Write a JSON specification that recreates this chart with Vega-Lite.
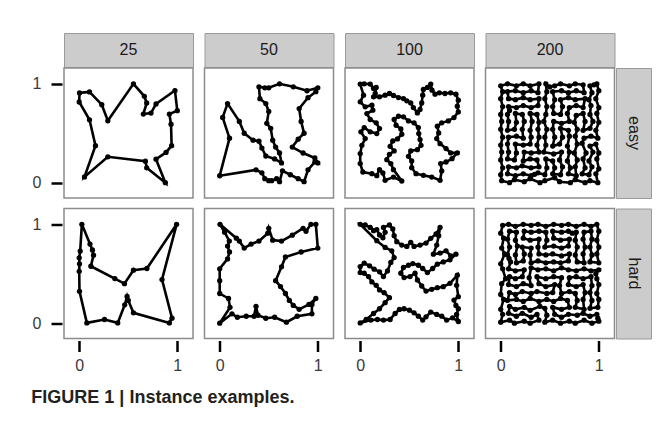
{
  "$schema": "https://vega.github.io/schema/vega-lite/v6.json",
  "background": "white",
  "padding": {"left": 31, "top": 32, "right": 12, "bottom": 16},
  "spacing": 8.5,
  "title": {
    "text": "FIGURE 1 | Instance examples.",
    "orient": "bottom",
    "anchor": "start",
    "frame": "bounds",
    "offset": 15,
    "fontSize": 18,
    "fontWeight": "bold",
    "font": "Liberation Sans",
    "color": "#231f20"
  },
  "config": {
    "font": "Liberation Sans",
    "axis": {
      "title": null,
      "grid": false,
      "domain": false,
      "format": "d",
      "tickSize": 11,
      "tickWidth": 2.5,
      "tickColor": "#000000",
      "offset": 2,
      "labelFont": "Liberation Sans",
      "labelFontSize": 16,
      "labelColor": "#3a3a3a"
    }
  },
  "datasets": {
    "easy25": [
      {"x": 0.003, "y": 0.908}, {"x": 0.105, "y": 0.918}, {"x": 0.23, "y": 0.789}, {"x": 0.292, "y": 0.626},
      {"x": 0.553, "y": 1.0}, {"x": 0.664, "y": 0.874}, {"x": 0.688, "y": 0.806}, {"x": 0.654, "y": 0.694},
      {"x": 0.732, "y": 0.704}, {"x": 0.783, "y": 0.796}, {"x": 0.976, "y": 0.932}, {"x": 1.0, "y": 0.728},
      {"x": 0.919, "y": 0.694}, {"x": 0.936, "y": 0.592}, {"x": 0.942, "y": 0.374}, {"x": 0.885, "y": 0.306},
      {"x": 0.783, "y": 0.238}, {"x": 0.878, "y": 0.0}, {"x": 0.688, "y": 0.15}, {"x": 0.675, "y": 0.218},
      {"x": 0.292, "y": 0.262}, {"x": 0.054, "y": 0.058}, {"x": 0.166, "y": 0.374}, {"x": 0.105, "y": 0.636},
      {"x": 0.0, "y": 0.816}
    ],
    "hard25": [
      {"x": 0.027, "y": 1.0}, {"x": 0.11, "y": 0.8}, {"x": 0.135, "y": 0.74}, {"x": 0.146, "y": 0.688},
      {"x": 0.119, "y": 0.576}, {"x": 0.363, "y": 0.451}, {"x": 0.461, "y": 0.4}, {"x": 0.553, "y": 0.536},
      {"x": 0.69, "y": 0.553}, {"x": 0.993, "y": 1.0}, {"x": 0.844, "y": 0.441}, {"x": 0.946, "y": 0.051},
      {"x": 0.919, "y": 0.003}, {"x": 0.553, "y": 0.105}, {"x": 0.5, "y": 0.23}, {"x": 0.488, "y": 0.271},
      {"x": 0.464, "y": 0.186}, {"x": 0.393, "y": 0.003}, {"x": 0.258, "y": 0.037}, {"x": 0.078, "y": 0.003},
      {"x": 0.003, "y": 0.322}, {"x": 0.0, "y": 0.525}, {"x": 0.003, "y": 0.6}, {"x": 0.0, "y": 0.661},
      {"x": 0.01, "y": 0.729}
    ],
    "easy50": [
      {"x": 0.0, "y": 0.07}, {"x": 0.37, "y": 0.13}, {"x": 0.43, "y": 0.1}, {"x": 0.46, "y": 0.04},
      {"x": 0.5, "y": 0.02}, {"x": 0.53, "y": 0.02}, {"x": 0.58, "y": 0.04}, {"x": 0.61, "y": 0.01},
      {"x": 0.64, "y": 0.12}, {"x": 0.72, "y": 0.08}, {"x": 0.8, "y": 0.04}, {"x": 0.86, "y": 0.01},
      {"x": 0.9, "y": 0.13}, {"x": 0.97, "y": 0.21}, {"x": 1.0, "y": 0.2}, {"x": 0.97, "y": 0.25},
      {"x": 0.85, "y": 0.3}, {"x": 0.74, "y": 0.36}, {"x": 0.8, "y": 0.44}, {"x": 0.86, "y": 0.5},
      {"x": 0.83, "y": 0.62}, {"x": 0.81, "y": 0.75}, {"x": 0.9, "y": 0.86}, {"x": 0.98, "y": 0.92},
      {"x": 1.0, "y": 0.96}, {"x": 0.89, "y": 0.93}, {"x": 0.75, "y": 0.97}, {"x": 0.61, "y": 1.0},
      {"x": 0.5, "y": 0.96}, {"x": 0.46, "y": 0.96}, {"x": 0.4, "y": 0.97}, {"x": 0.41, "y": 0.85},
      {"x": 0.47, "y": 0.8}, {"x": 0.5, "y": 0.72}, {"x": 0.48, "y": 0.6}, {"x": 0.52, "y": 0.55},
      {"x": 0.54, "y": 0.43}, {"x": 0.57, "y": 0.36}, {"x": 0.61, "y": 0.3}, {"x": 0.63, "y": 0.2},
      {"x": 0.56, "y": 0.24}, {"x": 0.47, "y": 0.27}, {"x": 0.43, "y": 0.35}, {"x": 0.4, "y": 0.42},
      {"x": 0.34, "y": 0.43}, {"x": 0.25, "y": 0.5}, {"x": 0.2, "y": 0.62}, {"x": 0.08, "y": 0.8},
      {"x": 0.03, "y": 0.66}, {"x": 0.1, "y": 0.45}
    ],
    "hard50": [
      {"x": 0.003, "y": 1.0}, {"x": 0.17, "y": 0.86}, {"x": 0.2, "y": 0.83}, {"x": 0.25, "y": 0.76},
      {"x": 0.32, "y": 0.8}, {"x": 0.4, "y": 0.83}, {"x": 0.49, "y": 0.91}, {"x": 0.5, "y": 0.96},
      {"x": 0.54, "y": 0.84}, {"x": 0.63, "y": 0.83}, {"x": 0.74, "y": 0.89}, {"x": 0.85, "y": 0.96},
      {"x": 0.88, "y": 0.93}, {"x": 0.93, "y": 1.0}, {"x": 0.98, "y": 1.0}, {"x": 1.0, "y": 0.76},
      {"x": 0.83, "y": 0.72}, {"x": 0.67, "y": 0.67}, {"x": 0.63, "y": 0.57}, {"x": 0.57, "y": 0.43},
      {"x": 0.62, "y": 0.37}, {"x": 0.67, "y": 0.3}, {"x": 0.71, "y": 0.23}, {"x": 0.75, "y": 0.18},
      {"x": 0.81, "y": 0.14}, {"x": 0.91, "y": 0.19}, {"x": 0.98, "y": 0.25}, {"x": 0.94, "y": 0.19},
      {"x": 0.94, "y": 0.095}, {"x": 0.79, "y": 0.07}, {"x": 0.68, "y": 0.01}, {"x": 0.56, "y": 0.06},
      {"x": 0.47, "y": 0.05}, {"x": 0.39, "y": 0.08}, {"x": 0.37, "y": 0.17}, {"x": 0.35, "y": 0.07},
      {"x": 0.27, "y": 0.07}, {"x": 0.18, "y": 0.06}, {"x": 0.125, "y": 0.095}, {"x": 0.0, "y": 0.0},
      {"x": 0.105, "y": 0.16}, {"x": 0.09, "y": 0.25}, {"x": 0.0, "y": 0.3}, {"x": 0.0, "y": 0.43},
      {"x": 0.0, "y": 0.55}, {"x": 0.08, "y": 0.65}, {"x": 0.1, "y": 0.72}, {"x": 0.08, "y": 0.78},
      {"x": 0.098, "y": 0.83}, {"x": 0.05, "y": 0.92}
    ],
    "easy100": [
      {"x": 0.0, "y": 0.997}, {"x": 0.041, "y": 1.0}, {"x": 0.102, "y": 0.997}, {"x": 0.136, "y": 0.953},
      {"x": 0.163, "y": 0.963}, {"x": 0.153, "y": 0.902}, {"x": 0.136, "y": 0.868}, {"x": 0.197, "y": 0.868},
      {"x": 0.254, "y": 0.885}, {"x": 0.298, "y": 0.902}, {"x": 0.339, "y": 0.882}, {"x": 0.39, "y": 0.861},
      {"x": 0.441, "y": 0.851}, {"x": 0.475, "y": 0.828}, {"x": 0.515, "y": 0.807}, {"x": 0.542, "y": 0.76},
      {"x": 0.583, "y": 0.706}, {"x": 0.61, "y": 0.74}, {"x": 0.627, "y": 0.807}, {"x": 0.637, "y": 0.885},
      {"x": 0.644, "y": 0.943}, {"x": 0.685, "y": 0.963}, {"x": 0.719, "y": 0.997}, {"x": 0.732, "y": 0.936},
      {"x": 0.763, "y": 0.895}, {"x": 0.807, "y": 0.909}, {"x": 0.864, "y": 0.902}, {"x": 0.922, "y": 0.909},
      {"x": 0.976, "y": 0.895}, {"x": 1.0, "y": 0.834}, {"x": 0.99, "y": 0.774}, {"x": 1.0, "y": 0.716},
      {"x": 0.956, "y": 0.659}, {"x": 0.898, "y": 0.625}, {"x": 0.831, "y": 0.605}, {"x": 0.786, "y": 0.571},
      {"x": 0.8, "y": 0.503}, {"x": 0.78, "y": 0.446}, {"x": 0.814, "y": 0.395}, {"x": 0.875, "y": 0.345},
      {"x": 0.922, "y": 0.301}, {"x": 0.99, "y": 0.301}, {"x": 0.936, "y": 0.243}, {"x": 0.875, "y": 0.209},
      {"x": 0.82, "y": 0.193}, {"x": 0.831, "y": 0.118}, {"x": 0.814, "y": 0.024}, {"x": 0.729, "y": 0.057},
      {"x": 0.644, "y": 0.074}, {"x": 0.569, "y": 0.091}, {"x": 0.525, "y": 0.152}, {"x": 0.525, "y": 0.22},
      {"x": 0.492, "y": 0.267}, {"x": 0.515, "y": 0.321}, {"x": 0.583, "y": 0.334}, {"x": 0.62, "y": 0.378},
      {"x": 0.61, "y": 0.436}, {"x": 0.597, "y": 0.497}, {"x": 0.593, "y": 0.557}, {"x": 0.549, "y": 0.605},
      {"x": 0.492, "y": 0.625}, {"x": 0.441, "y": 0.666}, {"x": 0.39, "y": 0.672}, {"x": 0.346, "y": 0.639},
      {"x": 0.366, "y": 0.581}, {"x": 0.414, "y": 0.544}, {"x": 0.424, "y": 0.49}, {"x": 0.38, "y": 0.443},
      {"x": 0.332, "y": 0.422}, {"x": 0.305, "y": 0.368}, {"x": 0.346, "y": 0.321}, {"x": 0.298, "y": 0.287},
      {"x": 0.271, "y": 0.233}, {"x": 0.312, "y": 0.193}, {"x": 0.339, "y": 0.132}, {"x": 0.424, "y": 0.017},
      {"x": 0.339, "y": 0.057}, {"x": 0.254, "y": 0.024}, {"x": 0.231, "y": 0.098}, {"x": 0.197, "y": 0.132},
      {"x": 0.169, "y": 0.071}, {"x": 0.119, "y": 0.091}, {"x": 0.027, "y": 0.108}, {"x": 0.0, "y": 0.193},
      {"x": 0.0, "y": 0.294}, {"x": 0.017, "y": 0.378}, {"x": 0.051, "y": 0.446}, {"x": 0.007, "y": 0.514},
      {"x": 0.041, "y": 0.557}, {"x": 0.102, "y": 0.514}, {"x": 0.169, "y": 0.497}, {"x": 0.197, "y": 0.547},
      {"x": 0.163, "y": 0.605}, {"x": 0.102, "y": 0.639}, {"x": 0.068, "y": 0.699}, {"x": 0.129, "y": 0.733},
      {"x": 0.119, "y": 0.784}, {"x": 0.051, "y": 0.767}, {"x": 0.0, "y": 0.818}, {"x": 0.034, "y": 0.885}
    ],
    "hard100": [
      {"x": 0.0, "y": 1.0}, {"x": 0.051, "y": 0.993}, {"x": 0.102, "y": 0.969}, {"x": 0.136, "y": 0.936},
      {"x": 0.169, "y": 0.946}, {"x": 0.197, "y": 0.892}, {"x": 0.231, "y": 0.864}, {"x": 0.254, "y": 0.919},
      {"x": 0.237, "y": 0.969}, {"x": 0.298, "y": 0.993}, {"x": 0.332, "y": 0.953}, {"x": 0.346, "y": 0.885},
      {"x": 0.373, "y": 0.824}, {"x": 0.424, "y": 0.79}, {"x": 0.475, "y": 0.776}, {"x": 0.515, "y": 0.817},
      {"x": 0.549, "y": 0.776}, {"x": 0.61, "y": 0.79}, {"x": 0.671, "y": 0.81}, {"x": 0.719, "y": 0.858},
      {"x": 0.773, "y": 0.902}, {"x": 0.814, "y": 0.969}, {"x": 0.8, "y": 0.885}, {"x": 0.78, "y": 0.79},
      {"x": 0.746, "y": 0.698}, {"x": 0.814, "y": 0.708}, {"x": 0.875, "y": 0.732}, {"x": 0.922, "y": 0.681},
      {"x": 0.976, "y": 0.698}, {"x": 0.915, "y": 0.641}, {"x": 0.847, "y": 0.62}, {"x": 0.786, "y": 0.597},
      {"x": 0.739, "y": 0.553}, {"x": 0.685, "y": 0.512}, {"x": 0.637, "y": 0.553}, {"x": 0.593, "y": 0.586},
      {"x": 0.536, "y": 0.603}, {"x": 0.492, "y": 0.586}, {"x": 0.441, "y": 0.563}, {"x": 0.414, "y": 0.505},
      {"x": 0.447, "y": 0.461}, {"x": 0.508, "y": 0.471}, {"x": 0.559, "y": 0.505}, {"x": 0.583, "y": 0.437},
      {"x": 0.627, "y": 0.376}, {"x": 0.671, "y": 0.325}, {"x": 0.729, "y": 0.342}, {"x": 0.786, "y": 0.359},
      {"x": 0.847, "y": 0.369}, {"x": 0.915, "y": 0.403}, {"x": 0.99, "y": 0.485}, {"x": 0.983, "y": 0.383},
      {"x": 1.0, "y": 0.268}, {"x": 0.956, "y": 0.234}, {"x": 0.976, "y": 0.18}, {"x": 1.0, "y": 0.146},
      {"x": 0.983, "y": 0.088}, {"x": 1.0, "y": 0.017}, {"x": 0.942, "y": 0.054}, {"x": 0.881, "y": 0.031},
      {"x": 0.831, "y": 0.071}, {"x": 0.78, "y": 0.088}, {"x": 0.719, "y": 0.112}, {"x": 0.671, "y": 0.064},
      {"x": 0.637, "y": 0.031}, {"x": 0.593, "y": 0.071}, {"x": 0.549, "y": 0.105}, {"x": 0.502, "y": 0.132},
      {"x": 0.447, "y": 0.146}, {"x": 0.4, "y": 0.139}, {"x": 0.356, "y": 0.098}, {"x": 0.305, "y": 0.037},
      {"x": 0.237, "y": 0.031}, {"x": 0.176, "y": 0.037}, {"x": 0.108, "y": 0.031}, {"x": 0.0, "y": 0.003},
      {"x": 0.061, "y": 0.037}, {"x": 0.136, "y": 0.098}, {"x": 0.197, "y": 0.146}, {"x": 0.254, "y": 0.207},
      {"x": 0.298, "y": 0.258}, {"x": 0.244, "y": 0.308}, {"x": 0.197, "y": 0.336}, {"x": 0.163, "y": 0.383},
      {"x": 0.119, "y": 0.417}, {"x": 0.085, "y": 0.471}, {"x": 0.041, "y": 0.505}, {"x": 0.0, "y": 0.512},
      {"x": 0.0, "y": 0.573}, {"x": 0.041, "y": 0.607}, {"x": 0.095, "y": 0.58}, {"x": 0.142, "y": 0.546},
      {"x": 0.197, "y": 0.519}, {"x": 0.237, "y": 0.471}, {"x": 0.278, "y": 0.529}, {"x": 0.312, "y": 0.614},
      {"x": 0.346, "y": 0.664}, {"x": 0.322, "y": 0.732}, {"x": 0.254, "y": 0.766}, {"x": 0.169, "y": 0.834}
    ],
    "easy200": [
      {"x": 0.01, "y": 0.02}, {"x": 0.09, "y": 0.0}, {"x": 0.14, "y": 0.03}, {"x": 0.24, "y": 0.01},
      {"x": 0.3, "y": 0.04}, {"x": 0.4, "y": 0.0}, {"x": 0.45, "y": 0.02}, {"x": 0.55, "y": 0.05},
      {"x": 0.6, "y": 0.01}, {"x": 0.71, "y": 0.0}, {"x": 0.76, "y": 0.03}, {"x": 0.86, "y": 0.0},
      {"x": 0.91, "y": 0.02}, {"x": 0.99, "y": 0.0}, {"x": 0.97, "y": 0.09}, {"x": 1.0, "y": 0.14},
      {"x": 0.98, "y": 0.24}, {"x": 1.0, "y": 0.3}, {"x": 0.97, "y": 0.39}, {"x": 0.91, "y": 0.37},
      {"x": 0.94, "y": 0.31}, {"x": 0.9, "y": 0.22}, {"x": 0.93, "y": 0.16}, {"x": 0.9, "y": 0.08},
      {"x": 0.83, "y": 0.09}, {"x": 0.86, "y": 0.15}, {"x": 0.84, "y": 0.24}, {"x": 0.87, "y": 0.3},
      {"x": 0.83, "y": 0.4}, {"x": 0.85, "y": 0.45}, {"x": 0.92, "y": 0.47}, {"x": 0.99, "y": 0.45},
      {"x": 0.97, "y": 0.53}, {"x": 1.0, "y": 0.61}, {"x": 0.98, "y": 0.7}, {"x": 1.0, "y": 0.76},
      {"x": 0.97, "y": 0.85}, {"x": 1.0, "y": 0.93}, {"x": 0.98, "y": 1.0}, {"x": 0.95, "y": 0.99},
      {"x": 0.91, "y": 0.98}, {"x": 0.93, "y": 0.91}, {"x": 0.9, "y": 0.84}, {"x": 0.92, "y": 0.78},
      {"x": 0.91, "y": 0.69}, {"x": 0.94, "y": 0.62}, {"x": 0.91, "y": 0.55}, {"x": 0.84, "y": 0.53},
      {"x": 0.86, "y": 0.62}, {"x": 0.84, "y": 0.7}, {"x": 0.77, "y": 0.68}, {"x": 0.75, "y": 0.61},
      {"x": 0.78, "y": 0.54}, {"x": 0.76, "y": 0.47}, {"x": 0.78, "y": 0.39}, {"x": 0.75, "y": 0.3},
      {"x": 0.78, "y": 0.23}, {"x": 0.76, "y": 0.16}, {"x": 0.77, "y": 0.07}, {"x": 0.69, "y": 0.09},
      {"x": 0.71, "y": 0.15}, {"x": 0.68, "y": 0.22}, {"x": 0.7, "y": 0.31}, {"x": 0.68, "y": 0.37},
      {"x": 0.7, "y": 0.47}, {"x": 0.69, "y": 0.53}, {"x": 0.61, "y": 0.55}, {"x": 0.63, "y": 0.46},
      {"x": 0.6, "y": 0.39}, {"x": 0.53, "y": 0.37}, {"x": 0.55, "y": 0.46}, {"x": 0.53, "y": 0.54},
      {"x": 0.54, "y": 0.62}, {"x": 0.62, "y": 0.6}, {"x": 0.7, "y": 0.62}, {"x": 0.68, "y": 0.7},
      {"x": 0.7, "y": 0.76}, {"x": 0.77, "y": 0.78}, {"x": 0.84, "y": 0.76}, {"x": 0.86, "y": 0.85},
      {"x": 0.76, "y": 0.84}, {"x": 0.69, "y": 0.86}, {"x": 0.61, "y": 0.84}, {"x": 0.63, "y": 0.77},
      {"x": 0.61, "y": 0.69}, {"x": 0.54, "y": 0.7}, {"x": 0.53, "y": 0.77}, {"x": 0.55, "y": 0.84},
      {"x": 0.53, "y": 0.92}, {"x": 0.62, "y": 0.93}, {"x": 0.69, "y": 0.91}, {"x": 0.77, "y": 0.93},
      {"x": 0.85, "y": 0.91}, {"x": 0.84, "y": 0.99}, {"x": 0.76, "y": 1.0}, {"x": 0.7, "y": 0.98},
      {"x": 0.61, "y": 1.0}, {"x": 0.55, "y": 0.98}, {"x": 0.5, "y": 0.97}, {"x": 0.46, "y": 1.0},
      {"x": 0.47, "y": 0.92}, {"x": 0.45, "y": 0.85}, {"x": 0.47, "y": 0.77}, {"x": 0.46, "y": 0.69},
      {"x": 0.44, "y": 0.62}, {"x": 0.47, "y": 0.54}, {"x": 0.45, "y": 0.46}, {"x": 0.46, "y": 0.38},
      {"x": 0.44, "y": 0.31}, {"x": 0.54, "y": 0.29}, {"x": 0.62, "y": 0.31}, {"x": 0.6, "y": 0.23},
      {"x": 0.63, "y": 0.16}, {"x": 0.61, "y": 0.08}, {"x": 0.53, "y": 0.09}, {"x": 0.55, "y": 0.15},
      {"x": 0.53, "y": 0.22}, {"x": 0.46, "y": 0.24}, {"x": 0.47, "y": 0.15}, {"x": 0.45, "y": 0.08},
      {"x": 0.38, "y": 0.1}, {"x": 0.345, "y": 0.085}, {"x": 0.31, "y": 0.07}, {"x": 0.23, "y": 0.09},
      {"x": 0.15, "y": 0.07}, {"x": 0.07, "y": 0.09}, {"x": 0.08, "y": 0.16}, {"x": 0.16, "y": 0.15},
      {"x": 0.22, "y": 0.17}, {"x": 0.31, "y": 0.15}, {"x": 0.39, "y": 0.16}, {"x": 0.37, "y": 0.23},
      {"x": 0.3, "y": 0.24}, {"x": 0.23, "y": 0.22}, {"x": 0.24, "y": 0.31}, {"x": 0.31, "y": 0.3},
      {"x": 0.39, "y": 0.31}, {"x": 0.37, "y": 0.38}, {"x": 0.39, "y": 0.46}, {"x": 0.38, "y": 0.54},
      {"x": 0.39, "y": 0.61}, {"x": 0.37, "y": 0.69}, {"x": 0.3, "y": 0.7}, {"x": 0.32, "y": 0.62},
      {"x": 0.3, "y": 0.53}, {"x": 0.31, "y": 0.46}, {"x": 0.3, "y": 0.39}, {"x": 0.23, "y": 0.38},
      {"x": 0.15, "y": 0.39}, {"x": 0.16, "y": 0.3}, {"x": 0.14, "y": 0.23}, {"x": 0.07, "y": 0.24},
      {"x": 0.08, "y": 0.31}, {"x": 0.07, "y": 0.39}, {"x": 0.08, "y": 0.46}, {"x": 0.16, "y": 0.47},
      {"x": 0.23, "y": 0.45}, {"x": 0.22, "y": 0.54}, {"x": 0.24, "y": 0.62}, {"x": 0.22, "y": 0.69},
      {"x": 0.15, "y": 0.7}, {"x": 0.16, "y": 0.61}, {"x": 0.14, "y": 0.54}, {"x": 0.07, "y": 0.53},
      {"x": 0.08, "y": 0.62}, {"x": 0.07, "y": 0.69}, {"x": 0.09, "y": 0.73}, {"x": 0.08, "y": 0.77},
      {"x": 0.16, "y": 0.76}, {"x": 0.23, "y": 0.78}, {"x": 0.31, "y": 0.76}, {"x": 0.38, "y": 0.78},
      {"x": 0.39, "y": 0.85}, {"x": 0.3, "y": 0.84}, {"x": 0.23, "y": 0.86}, {"x": 0.15, "y": 0.84},
      {"x": 0.08, "y": 0.85}, {"x": 0.07, "y": 0.92}, {"x": 0.15, "y": 0.93}, {"x": 0.23, "y": 0.91},
      {"x": 0.31, "y": 0.93}, {"x": 0.38, "y": 0.91}, {"x": 0.39, "y": 1.0}, {"x": 0.3, "y": 0.98},
      {"x": 0.23, "y": 1.0}, {"x": 0.16, "y": 0.98}, {"x": 0.07, "y": 1.0}, {"x": 0.0, "y": 0.98},
      {"x": 0.02, "y": 0.92}, {"x": 0.0, "y": 0.85}, {"x": 0.02, "y": 0.77}, {"x": 0.0, "y": 0.69},
      {"x": 0.01, "y": 0.62}, {"x": 0.0, "y": 0.54}, {"x": 0.02, "y": 0.46}, {"x": 0.0, "y": 0.38},
      {"x": 0.01, "y": 0.31}, {"x": 0.0, "y": 0.23}, {"x": 0.02, "y": 0.15}, {"x": 0.0, "y": 0.08}
    ],
    "hard200": [
      {"x": 0.02, "y": 0.99}, {"x": 0.0, "y": 0.91}, {"x": 0.03, "y": 0.86}, {"x": 0.01, "y": 0.76},
      {"x": 0.04, "y": 0.7}, {"x": 0.0, "y": 0.6}, {"x": 0.02, "y": 0.55}, {"x": 0.05, "y": 0.45},
      {"x": 0.01, "y": 0.4}, {"x": 0.0, "y": 0.29}, {"x": 0.03, "y": 0.24}, {"x": 0.0, "y": 0.14},
      {"x": 0.02, "y": 0.09}, {"x": 0.0, "y": 0.01}, {"x": 0.09, "y": 0.03}, {"x": 0.14, "y": 0.0},
      {"x": 0.24, "y": 0.02}, {"x": 0.3, "y": 0.0}, {"x": 0.39, "y": 0.03}, {"x": 0.37, "y": 0.09},
      {"x": 0.31, "y": 0.06}, {"x": 0.22, "y": 0.1}, {"x": 0.16, "y": 0.07}, {"x": 0.08, "y": 0.1},
      {"x": 0.09, "y": 0.17}, {"x": 0.15, "y": 0.14}, {"x": 0.24, "y": 0.16}, {"x": 0.3, "y": 0.13},
      {"x": 0.4, "y": 0.17}, {"x": 0.45, "y": 0.15}, {"x": 0.47, "y": 0.08}, {"x": 0.45, "y": 0.01},
      {"x": 0.53, "y": 0.03}, {"x": 0.61, "y": 0.0}, {"x": 0.7, "y": 0.02}, {"x": 0.76, "y": 0.0},
      {"x": 0.85, "y": 0.03}, {"x": 0.93, "y": 0.0}, {"x": 1.0, "y": 0.02}, {"x": 0.99, "y": 0.05},
      {"x": 0.98, "y": 0.09}, {"x": 0.91, "y": 0.07}, {"x": 0.84, "y": 0.1}, {"x": 0.78, "y": 0.08},
      {"x": 0.69, "y": 0.09}, {"x": 0.62, "y": 0.06}, {"x": 0.55, "y": 0.09}, {"x": 0.53, "y": 0.16},
      {"x": 0.62, "y": 0.14}, {"x": 0.7, "y": 0.16}, {"x": 0.68, "y": 0.23}, {"x": 0.61, "y": 0.25},
      {"x": 0.54, "y": 0.22}, {"x": 0.47, "y": 0.24}, {"x": 0.39, "y": 0.22}, {"x": 0.3, "y": 0.25},
      {"x": 0.23, "y": 0.22}, {"x": 0.16, "y": 0.24}, {"x": 0.07, "y": 0.23}, {"x": 0.09, "y": 0.31},
      {"x": 0.15, "y": 0.29}, {"x": 0.22, "y": 0.32}, {"x": 0.31, "y": 0.3}, {"x": 0.37, "y": 0.32},
      {"x": 0.47, "y": 0.3}, {"x": 0.53, "y": 0.31}, {"x": 0.55, "y": 0.39}, {"x": 0.46, "y": 0.37},
      {"x": 0.39, "y": 0.4}, {"x": 0.37, "y": 0.47}, {"x": 0.46, "y": 0.45}, {"x": 0.54, "y": 0.47},
      {"x": 0.62, "y": 0.46}, {"x": 0.6, "y": 0.38}, {"x": 0.62, "y": 0.3}, {"x": 0.7, "y": 0.32},
      {"x": 0.76, "y": 0.3}, {"x": 0.78, "y": 0.23}, {"x": 0.76, "y": 0.16}, {"x": 0.85, "y": 0.14},
      {"x": 0.84, "y": 0.24}, {"x": 0.86, "y": 0.31}, {"x": 0.84, "y": 0.39}, {"x": 0.77, "y": 0.37},
      {"x": 0.69, "y": 0.39}, {"x": 0.7, "y": 0.46}, {"x": 0.77, "y": 0.47}, {"x": 0.84, "y": 0.45},
      {"x": 0.92, "y": 0.47}, {"x": 0.93, "y": 0.38}, {"x": 0.91, "y": 0.31}, {"x": 0.93, "y": 0.23},
      {"x": 0.91, "y": 0.15}, {"x": 0.99, "y": 0.16}, {"x": 1.0, "y": 0.24}, {"x": 0.98, "y": 0.3},
      {"x": 1.0, "y": 0.39}, {"x": 0.98, "y": 0.45}, {"x": 0.97, "y": 0.5}, {"x": 1.0, "y": 0.54},
      {"x": 0.92, "y": 0.53}, {"x": 0.85, "y": 0.55}, {"x": 0.77, "y": 0.53}, {"x": 0.69, "y": 0.54},
      {"x": 0.62, "y": 0.56}, {"x": 0.54, "y": 0.53}, {"x": 0.46, "y": 0.55}, {"x": 0.38, "y": 0.54},
      {"x": 0.31, "y": 0.56}, {"x": 0.29, "y": 0.46}, {"x": 0.31, "y": 0.38}, {"x": 0.23, "y": 0.4},
      {"x": 0.16, "y": 0.37}, {"x": 0.08, "y": 0.39}, {"x": 0.09, "y": 0.47}, {"x": 0.15, "y": 0.45},
      {"x": 0.22, "y": 0.47}, {"x": 0.24, "y": 0.54}, {"x": 0.15, "y": 0.53}, {"x": 0.08, "y": 0.55},
      {"x": 0.1, "y": 0.62}, {"x": 0.085, "y": 0.655}, {"x": 0.07, "y": 0.69}, {"x": 0.09, "y": 0.77},
      {"x": 0.07, "y": 0.85}, {"x": 0.09, "y": 0.93}, {"x": 0.16, "y": 0.92}, {"x": 0.15, "y": 0.84},
      {"x": 0.17, "y": 0.78}, {"x": 0.15, "y": 0.69}, {"x": 0.16, "y": 0.61}, {"x": 0.23, "y": 0.63},
      {"x": 0.24, "y": 0.7}, {"x": 0.22, "y": 0.77}, {"x": 0.31, "y": 0.76}, {"x": 0.3, "y": 0.69},
      {"x": 0.31, "y": 0.61}, {"x": 0.38, "y": 0.63}, {"x": 0.46, "y": 0.61}, {"x": 0.54, "y": 0.62},
      {"x": 0.61, "y": 0.61}, {"x": 0.69, "y": 0.63}, {"x": 0.7, "y": 0.7}, {"x": 0.62, "y": 0.68},
      {"x": 0.53, "y": 0.7}, {"x": 0.46, "y": 0.69}, {"x": 0.39, "y": 0.7}, {"x": 0.38, "y": 0.77},
      {"x": 0.39, "y": 0.85}, {"x": 0.3, "y": 0.84}, {"x": 0.23, "y": 0.86}, {"x": 0.24, "y": 0.93},
      {"x": 0.31, "y": 0.92}, {"x": 0.39, "y": 0.93}, {"x": 0.46, "y": 0.92}, {"x": 0.47, "y": 0.84},
      {"x": 0.45, "y": 0.77}, {"x": 0.54, "y": 0.78}, {"x": 0.62, "y": 0.76}, {"x": 0.69, "y": 0.78},
      {"x": 0.7, "y": 0.85}, {"x": 0.61, "y": 0.84}, {"x": 0.54, "y": 0.86}, {"x": 0.53, "y": 0.93},
      {"x": 0.62, "y": 0.92}, {"x": 0.69, "y": 0.93}, {"x": 0.73, "y": 0.91}, {"x": 0.77, "y": 0.92},
      {"x": 0.76, "y": 0.84}, {"x": 0.78, "y": 0.77}, {"x": 0.76, "y": 0.69}, {"x": 0.78, "y": 0.62},
      {"x": 0.85, "y": 0.61}, {"x": 0.84, "y": 0.7}, {"x": 0.86, "y": 0.77}, {"x": 0.84, "y": 0.85},
      {"x": 0.85, "y": 0.92}, {"x": 0.92, "y": 0.93}, {"x": 0.93, "y": 0.85}, {"x": 0.91, "y": 0.77},
      {"x": 0.93, "y": 0.69}, {"x": 0.91, "y": 0.62}, {"x": 1.0, "y": 0.61}, {"x": 0.98, "y": 0.7},
      {"x": 1.0, "y": 0.77}, {"x": 0.98, "y": 0.84}, {"x": 1.0, "y": 0.93}, {"x": 0.98, "y": 1.0},
      {"x": 0.92, "y": 0.98}, {"x": 0.85, "y": 1.0}, {"x": 0.77, "y": 0.98}, {"x": 0.69, "y": 1.0},
      {"x": 0.62, "y": 0.99}, {"x": 0.54, "y": 1.0}, {"x": 0.46, "y": 0.98}, {"x": 0.38, "y": 1.0},
      {"x": 0.31, "y": 0.99}, {"x": 0.23, "y": 1.0}, {"x": 0.15, "y": 0.98}, {"x": 0.08, "y": 1.0}
    ]
  },
  "vconcat": [
    {
      "spacing": -2.5,
      "vconcat": [
        {
          "spacing": 9.5,
          "hconcat": [
            {"width": 129, "height": 34, "view": {"fill": "#cccccc", "stroke": "#9a9a9a", "strokeWidth": 1},
             "data": {"values": [{"label": "25", "v": 0.5}]},
             "mark": {"type": "text", "fontSize": 16, "color": "#1a1a1a", "font": "Liberation Sans"},
             "encoding": {
               "text": {"field": "label"},
               "y": {"field": "v", "type": "quantitative", "scale": {"domain": [0, 1]},
                     "axis": {"values": [0.5], "labelExpr": "'0'", "labelFontSize": 16, "labelPadding": 10, "labelColor": "transparent", "tickColor": "transparent"}}
             }},
            {"width": 129, "height": 34, "view": {"fill": "#cccccc", "stroke": "#9a9a9a", "strokeWidth": 1},
             "data": {"values": [{"label": "50"}]},
             "mark": {"type": "text", "fontSize": 16, "color": "#1a1a1a", "font": "Liberation Sans"},
             "encoding": {"text": {"field": "label"}}},
            {"width": 129, "height": 34, "view": {"fill": "#cccccc", "stroke": "#9a9a9a", "strokeWidth": 1},
             "data": {"values": [{"label": "100"}]},
             "mark": {"type": "text", "fontSize": 16, "color": "#1a1a1a", "font": "Liberation Sans"},
             "encoding": {"text": {"field": "label"}}},
            {"width": 129, "height": 34, "view": {"fill": "#cccccc", "stroke": "#9a9a9a", "strokeWidth": 1},
             "data": {"values": [{"label": "200"}]},
             "mark": {"type": "text", "fontSize": 16, "color": "#1a1a1a", "font": "Liberation Sans"},
             "encoding": {"text": {"field": "label"}}}
          ]
        },
        {
          "spacing": -2.5,
          "hconcat": [
            {
              "spacing": 9.5,
              "hconcat": [
                {"width": 129, "height": 130, "view": {"stroke": "#8c8c8c", "strokeWidth": 1.5, "fill": "white"},
                 "data": {"name": "easy25"},
                 "encoding": {
                   "x": {"field": "x", "type": "quantitative", "scale": {"domain": [-0.155, 1.16], "nice": false, "zero": false}, "axis": null},
                   "y": {"field": "y", "type": "quantitative", "scale": {"domain": [-0.155, 1.16], "nice": false, "zero": false},
                         "axis": {"values": [0, 1], "labelFontSize": 16, "labelPadding": 10}}
                 },
                 "layer": [
                   {"mark": {"type": "line", "color": "#000000", "strokeWidth": 2.6, "interpolate": "linear-closed"}, "encoding": {"order": {"value": null}}},
                   {"mark": {"type": "circle", "color": "#000000", "size": 28, "opacity": 1}}
                 ]},
                {"width": 129, "height": 130, "view": {"stroke": "#8c8c8c", "strokeWidth": 1.5, "fill": "white"},
                 "data": {"name": "easy50"},
                 "encoding": {
                   "x": {"field": "x", "type": "quantitative", "scale": {"domain": [-0.155, 1.16], "nice": false, "zero": false}, "axis": null},
                   "y": {"field": "y", "type": "quantitative", "scale": {"domain": [-0.155, 1.16], "nice": false, "zero": false}, "axis": null}
                 },
                 "layer": [
                   {"mark": {"type": "line", "color": "#000000", "strokeWidth": 2.6, "interpolate": "linear-closed"}, "encoding": {"order": {"value": null}}},
                   {"mark": {"type": "circle", "color": "#000000", "size": 28, "opacity": 1}}
                 ]},
                {"width": 129, "height": 130, "view": {"stroke": "#8c8c8c", "strokeWidth": 1.5, "fill": "white"},
                 "data": {"name": "easy100"},
                 "encoding": {
                   "x": {"field": "x", "type": "quantitative", "scale": {"domain": [-0.155, 1.16], "nice": false, "zero": false}, "axis": null},
                   "y": {"field": "y", "type": "quantitative", "scale": {"domain": [-0.155, 1.16], "nice": false, "zero": false}, "axis": null}
                 },
                 "layer": [
                   {"mark": {"type": "line", "color": "#000000", "strokeWidth": 2.6, "interpolate": "linear-closed"}, "encoding": {"order": {"value": null}}},
                   {"mark": {"type": "circle", "color": "#000000", "size": 28, "opacity": 1}}
                 ]},
                {"width": 129, "height": 130, "view": {"stroke": "#8c8c8c", "strokeWidth": 1.5, "fill": "white"},
                 "data": {"name": "easy200"},
                 "encoding": {
                   "x": {"field": "x", "type": "quantitative", "scale": {"domain": [-0.155, 1.16], "nice": false, "zero": false}, "axis": null},
                   "y": {"field": "y", "type": "quantitative", "scale": {"domain": [-0.155, 1.16], "nice": false, "zero": false}, "axis": null}
                 },
                 "layer": [
                   {"mark": {"type": "line", "color": "#000000", "strokeWidth": 2.6, "interpolate": "linear-closed"}, "encoding": {"order": {"value": null}}},
                   {"mark": {"type": "circle", "color": "#000000", "size": 28, "opacity": 1}}
                 ]}
              ]
            },
            {"width": 35, "height": 130, "view": {"fill": "#cccccc", "stroke": "#9a9a9a", "strokeWidth": 1},
             "data": {"values": [{"label": "easy"}]},
             "mark": {"type": "text", "fontSize": 16, "angle": 90, "color": "#1a1a1a", "font": "Liberation Sans"},
             "encoding": {"text": {"field": "label"}}}
          ]
        }
      ]
    },
    {
      "spacing": -2.5,
      "hconcat": [
        {
          "spacing": 9.5,
          "hconcat": [
            {"width": 129, "height": 130, "view": {"stroke": "#8c8c8c", "strokeWidth": 1.5, "fill": "white"},
             "data": {"name": "hard25"},
             "encoding": {
               "x": {"field": "x", "type": "quantitative", "scale": {"domain": [-0.155, 1.16], "nice": false, "zero": false},
                     "axis": {"values": [0, 1], "labelFontSize": 16, "labelPadding": 6}},
               "y": {"field": "y", "type": "quantitative", "scale": {"domain": [-0.155, 1.16], "nice": false, "zero": false},
                     "axis": {"values": [0, 1], "labelFontSize": 16, "labelPadding": 10}}
             },
             "layer": [
               {"mark": {"type": "line", "color": "#000000", "strokeWidth": 2.6, "interpolate": "linear-closed"}, "encoding": {"order": {"value": null}}},
               {"mark": {"type": "circle", "color": "#000000", "size": 28, "opacity": 1}}
             ]},
            {"width": 129, "height": 130, "view": {"stroke": "#8c8c8c", "strokeWidth": 1.5, "fill": "white"},
             "data": {"name": "hard50"},
             "encoding": {
               "x": {"field": "x", "type": "quantitative", "scale": {"domain": [-0.155, 1.16], "nice": false, "zero": false},
                     "axis": {"values": [0, 1], "labelFontSize": 16, "labelPadding": 6}},
               "y": {"field": "y", "type": "quantitative", "scale": {"domain": [-0.155, 1.16], "nice": false, "zero": false}, "axis": null}
             },
             "layer": [
               {"mark": {"type": "line", "color": "#000000", "strokeWidth": 2.6, "interpolate": "linear-closed"}, "encoding": {"order": {"value": null}}},
               {"mark": {"type": "circle", "color": "#000000", "size": 28, "opacity": 1}}
             ]},
            {"width": 129, "height": 130, "view": {"stroke": "#8c8c8c", "strokeWidth": 1.5, "fill": "white"},
             "data": {"name": "hard100"},
             "encoding": {
               "x": {"field": "x", "type": "quantitative", "scale": {"domain": [-0.155, 1.16], "nice": false, "zero": false},
                     "axis": {"values": [0, 1], "labelFontSize": 16, "labelPadding": 6}},
               "y": {"field": "y", "type": "quantitative", "scale": {"domain": [-0.155, 1.16], "nice": false, "zero": false}, "axis": null}
             },
             "layer": [
               {"mark": {"type": "line", "color": "#000000", "strokeWidth": 2.6, "interpolate": "linear-closed"}, "encoding": {"order": {"value": null}}},
               {"mark": {"type": "circle", "color": "#000000", "size": 28, "opacity": 1}}
             ]},
            {"width": 129, "height": 130, "view": {"stroke": "#8c8c8c", "strokeWidth": 1.5, "fill": "white"},
             "data": {"name": "hard200"},
             "encoding": {
               "x": {"field": "x", "type": "quantitative", "scale": {"domain": [-0.155, 1.16], "nice": false, "zero": false},
                     "axis": {"values": [0, 1], "labelFontSize": 16, "labelPadding": 6}},
               "y": {"field": "y", "type": "quantitative", "scale": {"domain": [-0.155, 1.16], "nice": false, "zero": false}, "axis": null}
             },
             "layer": [
               {"mark": {"type": "line", "color": "#000000", "strokeWidth": 2.6, "interpolate": "linear-closed"}, "encoding": {"order": {"value": null}}},
               {"mark": {"type": "circle", "color": "#000000", "size": 28, "opacity": 1}}
             ]}
          ]
        },
        {"width": 35, "height": 130, "view": {"fill": "#cccccc", "stroke": "#9a9a9a", "strokeWidth": 1},
         "data": {"values": [{"label": "hard"}]},
         "mark": {"type": "text", "fontSize": 16, "angle": 90, "color": "#1a1a1a", "font": "Liberation Sans"},
         "encoding": {"text": {"field": "label"}}}
      ]
    }
  ]
}
